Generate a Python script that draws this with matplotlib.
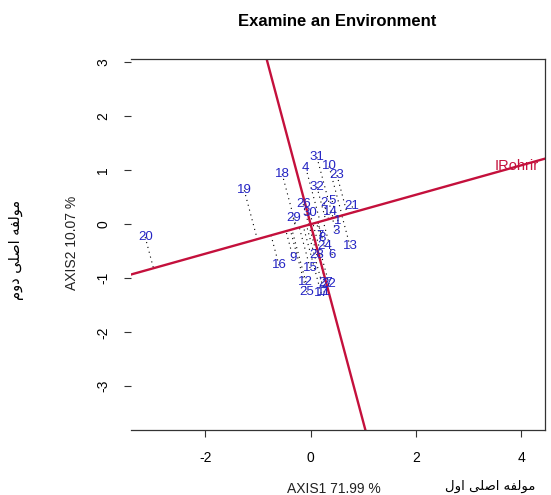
import numpy as np
import matplotlib
matplotlib.use("Agg")
import matplotlib.pyplot as plt

# Genotype scores (AXIS1, AXIS2)
genotypes = ["31", "4", "10", "23", "18", "19", "32", "26", "2", "5", "21", "29",
             "30", "14", "1", "3", "13", "7", "8", "24", "28", "6", "16", "9",
             "15", "12", "27", "22", "25", "17", "11", "20"]
gx = [0.12, -0.09, 0.35, 0.50, -0.54, -1.26, 0.12, -0.14, 0.26, 0.41, 0.79, -0.33,
      -0.01, 0.37, 0.52, 0.48, 0.75, 0.18, 0.22, 0.26, 0.12, 0.41, -0.60, -0.33,
      -0.01, -0.09, 0.29, 0.35, -0.07, 0.20, 0.26, -3.14]
gy = [1.24, 1.04, 1.07, 0.91, 0.93, 0.63, 0.69, 0.37, 0.39, 0.43, 0.33, 0.11,
      0.20, 0.22, 0.06, -0.13, -0.41, -0.22, -0.26, -0.41, -0.57, -0.57, -0.76, -0.63,
      -0.81, -1.07, -1.09, -1.11, -1.26, -1.28, -1.26, -0.24]

# Environment vector
env_name = "IRohrir"
env_x = 3.92
env_y = 1.07

xlim = (-3.41, 4.45)
ylim = (-3.81, 3.06)
xticks = [-2, 0, 2, 4]
yticks = [-3, -2, -1, 0, 1, 2, 3]

blue = "#2424C4"
red = "#C4103C"

W, H = 551, 495
fig = plt.figure(figsize=(W / 100, H / 100), dpi=100)
ax = fig.add_axes([131 / W, 65 / H, 414 / W, 371 / H])
ax.set_xlim(*xlim)
ax.set_ylim(*ylim)

# environment axis and its perpendicular through origin
ax.axline((0, 0), (env_x, env_y), color=red, lw=1.7, zorder=2)
ax.axline((0, 0), (-env_y, env_x), color=red, lw=1.7, zorder=2)

# projections of genotypes on environment axis
gxa = np.array(gx)
gya = np.array(gy)
t = (gxa * env_x + gya * env_y) / (env_x ** 2 + env_y ** 2)
px = t * env_x
py = t * env_y
for x0, y0, x1, y1 in zip(gxa, gya, px, py):
    ax.plot([x0, x1], [y0, y1], color="black", lw=0.8, linestyle=(0, (1, 3.5)), zorder=1)

for lab, x, y in zip(genotypes, gx, gy):
    ax.text(x, y, lab, color=blue, fontsize=9.5, ha="center", va="center",
            family="Liberation Sans", zorder=3)

ax.text(env_x, env_y, env_name, color=red, fontsize=10.5, ha="center", va="center",
        family="Liberation Sans", zorder=3)

ax.set_xticks(xticks)
ax.set_yticks(yticks)
ax.set_xticklabels([str(v) for v in xticks], family="Liberation Sans", fontsize=10)
ax.set_yticklabels([str(v) for v in yticks], family="Liberation Sans", fontsize=10,
                   rotation=90, va="center")
ax.tick_params(axis="both", direction="out", length=5, width=0.8, color="#333333", pad=10)
ax.spines["left"].set_visible(False)
for s in ["top", "right", "bottom"]:
    ax.spines[s].set_linewidth(0.9)
    ax.spines[s].set_color("#333333")

fig.text(337 / W, 1 - 22 / H, "Examine an Environment", ha="center", va="center",
         fontsize=12, fontweight="bold", family="Liberation Sans")
fig.text(334 / W, 1 - 489 / H, "AXIS1 71.99 %", ha="center", va="center",
         fontsize=10, family="Liberation Sans", color="#222222")
fig.text(72 / W, 1 - 243 / H, "AXIS2 10.07 %", ha="center", va="center",
         fontsize=10, family="Liberation Sans", rotation=90, color="#222222")

# Persian labels (presentation forms)
w_comp = "\uFEEA\uFED4\uFEDF\uFEEE\uFEE3"   # مولفه
w_main = "\uFEF0\uFEE0\uFEBB\uFE8D"         # اصلی
w_first = "\uFEDD\uFEED\uFE8D"              # اول
w_second = "\uFEE1\uFEED\uFEA9"             # دوم
fa_x = w_first + " " + w_main + " " + w_comp
fa_y = w_second + " " + w_main + " " + w_comp
fig.text(490 / W, 1 - 486 / H, fa_x, ha="center", va="center", fontsize=9.5,
         family=["DejaVu Sans"])
fig.text(17 / W, 1 - 250 / H, fa_y, ha="center", va="center", fontsize=10.5,
         family=["DejaVu Sans"], rotation=90)

fig.savefig("out.png", dpi=100)
